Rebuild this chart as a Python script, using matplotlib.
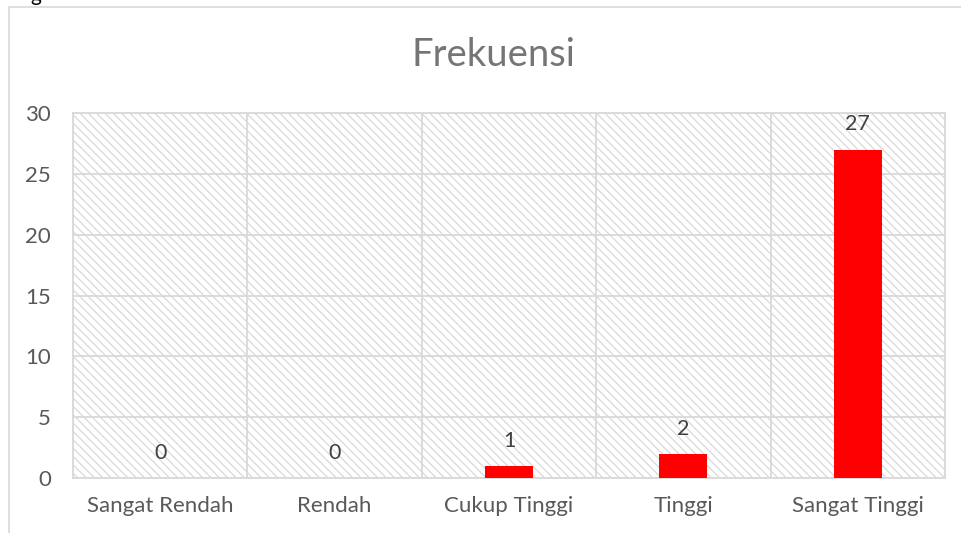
import numpy as np
import matplotlib.pyplot as plt
from matplotlib.patches import Rectangle

# data
categories = ['Sangat Rendah', 'Rendah', 'Cukup Tinggi', 'Tinggi', 'Sangat Tinggi']
frekuensi = [0, 0, 1, 2, 27]
y_ticks = [0, 5, 10, 15, 20, 25, 30]

plt.rcParams['font.family'] = ['Lato', 'DejaVu Sans']
plt.rcParams['hatch.linewidth'] = 0.9

if __name__ == '__main__':
    fig = plt.figure(figsize=(9.61, 5.33), dpi=100)
    ax = fig.add_axes([73 / 961, 1 - 478 / 533, (945 - 73) / 961, (478 - 113) / 533])

    grid_col = '#d9d9d9'
    x = np.arange(len(categories))

    # hatched plot area
    ax.patch.set_alpha(0)
    ax.add_patch(Rectangle((0, 0), 1, 1, transform=ax.transAxes, facecolor='white',
                           edgecolor=grid_col, hatch='\\\\\\\\', linewidth=0, zorder=0))

    bars = ax.bar(x, frekuensi, width=0.275, color='#ff0000', zorder=3)
    for xi, v in zip(x, frekuensi):
        ax.annotate(str(v), (xi, v), xytext=(0, 18), textcoords='offset points',
                    ha='center', va='center', fontsize=15.5, color='#404040')

    ax.set_xlim(-0.5, len(categories) - 0.5)
    ax.set_ylim(0, 30)
    ax.set_yticks(y_ticks)
    ax.set_xticks(x)
    ax.set_xticklabels(categories)
    ax.set_xticks(np.arange(-0.5, len(categories), 1), minor=True)

    ax.grid(axis='y', which='major', color=grid_col, linewidth=1.3, zorder=1)
    ax.grid(axis='x', which='minor', color=grid_col, linewidth=1.3, zorder=1)
    ax.set_axisbelow(True)
    for s in ax.spines.values():
        s.set_color(grid_col)
        s.set_linewidth(1.3)

    ax.tick_params(axis='both', which='both', length=0, labelsize=16, labelcolor='#595959')
    ax.tick_params(axis='y', pad=16)
    ax.tick_params(axis='x', pad=13)

    fig.text(493 / 961, 1 - 55 / 533, 'Frekuensi', ha='center', va='center',
             fontsize=27.5, color='#757575')

    # outer chart frame and clipped caption above
    fig.add_artist(Rectangle((9 / 961, -0.1), 1.2, 1.1 - 7 / 533, transform=fig.transFigure,
                             facecolor='none', edgecolor=grid_col, linewidth=1.2))
    fig.text(36 / 961, 1 - 1 / 533, 'g', ha='center', va='baseline', fontsize=15, color='black')

    fig.savefig('out.png', dpi=100)
